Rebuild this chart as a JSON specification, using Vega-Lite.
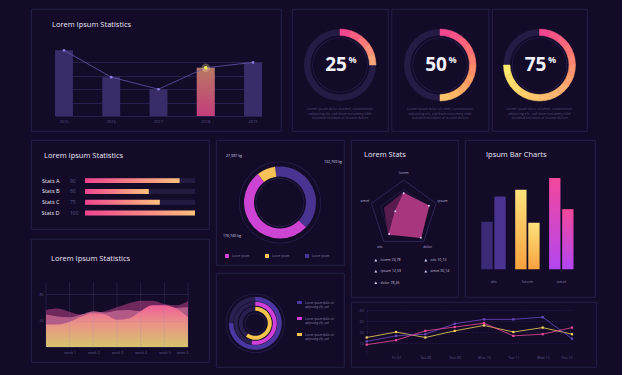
{
"$schema":"https://vega.github.io/schema/vega-lite/v6.json",
"background":"#130b28",
"padding":{"left":30,"top":8,"right":25,"bottom":7},
"spacing":7,
"resolve":{"scale":{"color":"independent","stroke":"independent"},"legend":{"color":"independent","stroke":"independent"}},
"config":{
 "font":"Open Sans",
 "view":{"stroke":"#2b2552","strokeWidth":0.8},
 "axis":{"domain":false,"ticks":false,"grid":false,"labelColor":"#5d5684","labelFontSize":4,"labelPadding":0},
 "title":{"color":"#e9e5f6","fontSize":7.5,"fontWeight":500,"anchor":"start","frame":"group"},
 "legend":{"labelColor":"#8a84a8","labelFontSize":3.6,"symbolStrokeWidth":0}
},
"datasets":{
 "gauges":[
  {"g":"25","seg":1,"v":5},{"g":"25","seg":2,"v":5},{"g":"25","seg":3,"v":5},{"g":"25","seg":4,"v":5},{"g":"25","seg":5,"v":5},
  {"g":"50","seg":1,"v":5},{"g":"50","seg":2,"v":5},{"g":"50","seg":3,"v":5},{"g":"50","seg":4,"v":5},{"g":"50","seg":5,"v":5},
  {"g":"50","seg":6,"v":5},{"g":"50","seg":7,"v":5},{"g":"50","seg":8,"v":5},{"g":"50","seg":9,"v":5},{"g":"50","seg":10,"v":5},
  {"g":"75","seg":1,"v":5},{"g":"75","seg":2,"v":5},{"g":"75","seg":3,"v":5},{"g":"75","seg":4,"v":5},{"g":"75","seg":5,"v":5},
  {"g":"75","seg":6,"v":5},{"g":"75","seg":7,"v":5},{"g":"75","seg":8,"v":5},{"g":"75","seg":9,"v":5},{"g":"75","seg":10,"v":5},
  {"g":"75","seg":11,"v":5},{"g":"75","seg":12,"v":5},{"g":"75","seg":13,"v":5},{"g":"75","seg":14,"v":5},{"g":"75","seg":15,"v":5}
 ],
 "radar":[
  {"axis":"lorem","k":0,"a":0.61,"b":0.64},
  {"axis":"ipsum","k":1,"a":0.78,"b":0.7},
  {"axis":"dolor","k":2,"a":0.86,"b":0.82},
  {"axis":"sits","k":3,"a":0.73,"b":0.76},
  {"axis":"amet","k":4,"a":0.26,"b":0.6}
 ]
},
"vconcat":[
 {"hconcat":[
  {
   "width":250,"height":122,
   "title":{"text":"Lorem Ipsum Statistics","offset":-19,"dx":21},
   "data":{"values":[{"year":"2015","v":49},{"year":"2016","v":29},{"year":"2017","v":20},{"year":"2018","v":36},{"year":"2019","v":40}]},
   "encoding":{
    "x":{"field":"year","type":"ordinal","title":null,"scale":{"range":[24,231],"paddingInner":0.62,"paddingOuter":0},"axis":{"offset":-12,"labelAngle":0}},
    "y":{"field":"v","type":"quantitative","title":null,"scale":{"domain":[0,50],"range":[107,40],"nice":false},"axis":{"grid":true,"gridColor":"#2d2458","gridWidth":0.8,"labels":false,"values":[0,10,20,30,40]}}
   },
   "layer":[
    {"mark":{"type":"bar","color":"#3a2c68"}},
    {"transform":[{"filter":"datum.year == '2018'"}],"mark":{"type":"bar","color":{"gradient":"linear","x1":0,"y1":0,"x2":0,"y2":1,"stops":[{"offset":0,"color":"#b87862"},{"offset":1,"color":"#c43d7c"}]}}},
    {"mark":{"type":"line","color":"#6656b0","strokeWidth":0.8}},
    {"mark":{"type":"point","filled":true,"color":"#8d7ee0","size":7,"opacity":1}},
    {"transform":[{"filter":"datum.year == '2018'"}],"mark":{"type":"point","filled":true,"color":"#f3e7a0","size":70,"opacity":0.3}},
    {"transform":[{"filter":"datum.year == '2018'"}],"mark":{"type":"point","filled":true,"color":"#f6ee5a","size":12,"opacity":1}}
   ]
  },
  {"hconcat":[
   {
    "width":96,"height":122,
    "title":{"text":["Lorem ipsum dolor sit amet, consectetuer","adipiscing elit, sed diam nonummy nibh","euismod tincidunt ut laoreet dolore"],"orient":"bottom","anchor":"middle","offset":-24,"fontSize":3.4,"color":"#56507c","lineHeight":4.6,"fontWeight":"normal"},
    "layer":[
     {"data":{"values":[{}]},"mark":{"type":"point","opacity":0,"size":0},"encoding":{"x":{"datum":0,"type":"quantitative","scale":{"domain":[-1,1]},"axis":null},"y":{"datum":0,"type":"quantitative","scale":{"domain":[-1,1]},"axis":null}}},
     {"data":{"values":[{"v":100}]},"mark":{"type":"arc","outerRadius":36,"innerRadius":29.5,"color":"#251b45","yOffset":-5},"encoding":{"theta":{"field":"v","type":"quantitative","scale":{"domain":[0,100]}}}},
     {"data":{"values":[{"v":100}]},"mark":{"type":"arc","outerRadius":27.6,"innerRadius":27,"color":"#2c2354","yOffset":-5},"encoding":{"theta":{"field":"v","type":"quantitative"}}},
     {"data":{"name":"gauges"},"transform":[{"filter":"datum.g == '25'"}],"mark":{"type":"arc","outerRadius":36,"innerRadius":29.5,"yOffset":-5,"strokeWidth":0.5},"encoding":{"theta":{"field":"v","type":"quantitative","stack":true},"order":{"field":"seg","type":"quantitative"},"color":{"field":"seg","type":"quantitative","scale":{"domain":[1,5],"range":["#f2478f","#f9a57a"]},"legend":null},"stroke":{"field":"seg","type":"quantitative","scale":{"domain":[1,5],"range":["#f2478f","#f9a57a"]},"legend":null}}},
     {"data":{"values":[{"p":"25"}]},"mark":{"type":"text","fontSize":19,"fontWeight":"bold","color":"#f3f1fa","dx":-4,"yOffset":-5,"baseline":"middle","align":"center"},"encoding":{"text":{"field":"p","type":"nominal"}}},
     {"data":{"values":[{"p":"%"}]},"mark":{"type":"text","fontSize":9,"fontWeight":"bold","color":"#f3f1fa","dx":12.5,"dy":-5,"yOffset":-5,"baseline":"middle","align":"center"},"encoding":{"text":{"field":"p","type":"nominal"}}}
    ]
   },
   {
    "width":97,"height":122,
    "title":{"text":["Lorem ipsum dolor sit amet, consectetuer","adipiscing elit, sed diam nonummy nibh","euismod tincidunt ut laoreet dolore"],"orient":"bottom","anchor":"middle","offset":-24,"fontSize":3.4,"color":"#56507c","lineHeight":4.6,"fontWeight":"normal"},
    "layer":[
     {"data":{"values":[{}]},"mark":{"type":"point","opacity":0,"size":0},"encoding":{"x":{"datum":0,"type":"quantitative","scale":{"domain":[-1,1]},"axis":null},"y":{"datum":0,"type":"quantitative","scale":{"domain":[-1,1]},"axis":null}}},
     {"data":{"values":[{"v":100}]},"mark":{"type":"arc","outerRadius":36,"innerRadius":29.5,"color":"#251b45","yOffset":-5},"encoding":{"theta":{"field":"v","type":"quantitative","scale":{"domain":[0,100]}}}},
     {"data":{"values":[{"v":100}]},"mark":{"type":"arc","outerRadius":27.6,"innerRadius":27,"color":"#2c2354","yOffset":-5},"encoding":{"theta":{"field":"v","type":"quantitative"}}},
     {"data":{"name":"gauges"},"transform":[{"filter":"datum.g == '50'"}],"mark":{"type":"arc","outerRadius":36,"innerRadius":29.5,"yOffset":-5,"strokeWidth":0.5},"encoding":{"theta":{"field":"v","type":"quantitative","stack":true},"order":{"field":"seg","type":"quantitative"},"color":{"field":"seg","type":"quantitative","scale":{"domain":[1,10],"range":["#f2478f","#fdc56a"]},"legend":null},"stroke":{"field":"seg","type":"quantitative","scale":{"domain":[1,10],"range":["#f2478f","#fdc56a"]},"legend":null}}},
     {"data":{"values":[{"p":"50"}]},"mark":{"type":"text","fontSize":19,"fontWeight":"bold","color":"#f3f1fa","dx":-4,"yOffset":-5,"baseline":"middle","align":"center"},"encoding":{"text":{"field":"p","type":"nominal"}}},
     {"data":{"values":[{"p":"%"}]},"mark":{"type":"text","fontSize":9,"fontWeight":"bold","color":"#f3f1fa","dx":12.5,"dy":-5,"yOffset":-5,"baseline":"middle","align":"center"},"encoding":{"text":{"field":"p","type":"nominal"}}}
    ]
   },
   {
    "width":95,"height":122,
    "title":{"text":["Lorem ipsum dolor sit amet, consectetuer","adipiscing elit, sed diam nonummy nibh","euismod tincidunt ut laoreet dolore"],"orient":"bottom","anchor":"middle","offset":-24,"fontSize":3.4,"color":"#56507c","lineHeight":4.6,"fontWeight":"normal"},
    "layer":[
     {"data":{"values":[{}]},"mark":{"type":"point","opacity":0,"size":0},"encoding":{"x":{"datum":0,"type":"quantitative","scale":{"domain":[-1,1]},"axis":null},"y":{"datum":0,"type":"quantitative","scale":{"domain":[-1,1]},"axis":null}}},
     {"data":{"values":[{"v":100}]},"mark":{"type":"arc","outerRadius":36,"innerRadius":29.5,"color":"#251b45","yOffset":-5},"encoding":{"theta":{"field":"v","type":"quantitative","scale":{"domain":[0,100]}}}},
     {"data":{"values":[{"v":100}]},"mark":{"type":"arc","outerRadius":27.6,"innerRadius":27,"color":"#2c2354","yOffset":-5},"encoding":{"theta":{"field":"v","type":"quantitative"}}},
     {"data":{"name":"gauges"},"transform":[{"filter":"datum.g == '75'"}],"mark":{"type":"arc","outerRadius":36,"innerRadius":29.5,"yOffset":-5,"strokeWidth":0.5},"encoding":{"theta":{"field":"v","type":"quantitative","stack":true},"order":{"field":"seg","type":"quantitative"},"color":{"field":"seg","type":"quantitative","scale":{"domain":[1,8,15],"range":["#f2478f","#fbae72","#fde96b"]},"legend":null},"stroke":{"field":"seg","type":"quantitative","scale":{"domain":[1,8,15],"range":["#f2478f","#fbae72","#fde96b"]},"legend":null}}},
     {"data":{"values":[{"p":"75"}]},"mark":{"type":"text","fontSize":19,"fontWeight":"bold","color":"#f3f1fa","dx":-4,"yOffset":-5,"baseline":"middle","align":"center"},"encoding":{"text":{"field":"p","type":"nominal"}}},
     {"data":{"values":[{"p":"%"}]},"mark":{"type":"text","fontSize":9,"fontWeight":"bold","color":"#f3f1fa","dx":12.5,"dy":-5,"yOffset":-5,"baseline":"middle","align":"center"},"encoding":{"text":{"field":"p","type":"nominal"}}}
    ]
   }
  ],"spacing":1.5,"resolve":{"scale":{"color":"independent","stroke":"independent"},"legend":{"color":"independent","stroke":"independent"}}}
 ],"spacing":9,"resolve":{"scale":{"color":"independent","stroke":"independent"},"legend":{"color":"independent","stroke":"independent"}}},
 {"hconcat":[
  {"vconcat":[
   {
    "width":178,"height":89,
    "title":{"text":"Lorem Ipsum Statistics","offset":-19,"dx":13},
    "data":{"values":[{"s":"Stats A","val":"90","len":86},{"s":"Stats B","val":"60","len":58},{"s":"Stats C","val":"75","len":68},{"s":"Stats D","val":"100","len":100}]},
    "encoding":{"y":{"field":"s","type":"nominal","title":null,"scale":{"range":[35.3,78.4],"paddingInner":0.55,"paddingOuter":0.275},"axis":{"offset":-28,"labelColor":"#ece8f7","labelFontSize":5.5,"labelPadding":0}}},
    "layer":[
     {"mark":{"type":"bar","color":"#231a40"},"encoding":{"x":{"datum":100,"type":"quantitative","scale":{"domain":[0,100],"range":[54,164]},"axis":null}}},
     {"mark":{"type":"bar","color":{"gradient":"linear","x1":0,"y1":0,"x2":1,"y2":0,"stops":[{"offset":0,"color":"#f0448f"},{"offset":1,"color":"#fcbf7c"}]}},"encoding":{"x":{"field":"len","type":"quantitative","axis":null}}},
     {"mark":{"type":"text","align":"left","dx":-15,"fontSize":5,"color":"#5d5684","baseline":"middle"},"encoding":{"x":{"datum":0,"type":"quantitative"},"text":{"field":"val","type":"nominal"}}}
    ]
   },
   {
    "width":178,"height":123,
    "title":{"text":"Lorem Ipsum Statistics","offset":-23.5,"dx":20},
    "data":{"values":[
     {"x":0,"a":56,"b":49,"c":34},{"x":0.5,"a":58,"b":46,"c":34},{"x":1,"a":53,"b":45,"c":38},
     {"x":1.5,"a":49,"b":49,"c":46},{"x":2,"a":51,"b":54,"c":51},{"x":2.5,"a":54,"b":52,"c":49},
     {"x":3,"a":60,"b":55,"c":41},{"x":3.5,"a":66,"b":56,"c":43},{"x":4,"a":70,"b":54,"c":54},
     {"x":4.5,"a":70,"b":54,"c":63},{"x":5,"a":65,"b":56,"c":63},{"x":5.5,"a":63,"b":59,"c":58},
     {"x":6,"a":69,"b":60,"c":45}]},
    "encoding":{
     "x":{"field":"x","type":"quantitative","title":null,"scale":{"domain":[0,6],"range":[15,157]},"axis":{"offset":-12,"values":[1,2,3,4,5,6],"labelExpr":"'week ' + datum.value","labelFontSize":3.6}}
    },
    "layer":[
     {"mark":{"type":"area","interpolate":"monotone","color":"#6f285c"},"encoding":{"y":{"field":"a","type":"quantitative","title":null,"scale":{"domain":[0,80],"range":[108,55],"nice":false},"axis":{"offset":-13.5,"labelPadding":1.5,"values":[0,20,40,60,80],"labelOverlap":false,"labelExpr":"datum.value == 0 ? '' : datum.label","grid":true,"gridColor":"#8b80c4","gridOpacity":0.28,"gridWidth":0.6,"zindex":1,"labelFontSize":3.6}}}},
     {"mark":{"type":"area","interpolate":"monotone","color":"#b45a86"},"encoding":{"y":{"field":"b","type":"quantitative"}}},
     {"mark":{"type":"area","interpolate":"monotone","color":{"gradient":"linear","x1":0,"y1":0,"x2":0,"y2":1,"stops":[{"offset":0,"color":"#ef5f9a"},{"offset":0.4,"color":"#eb8f88"},{"offset":1,"color":"#d6c46c"}]}},"encoding":{"y":{"field":"c","type":"quantitative"}}},
     {"transform":[{"filter":"datum.x % 1 == 0"}],"mark":{"type":"rule","color":"#8b80c4","opacity":0.28,"strokeWidth":0.6},"encoding":{"y":{"datum":0,"type":"quantitative"},"y2":{"datum":98}}}
    ]
   }
  ],"spacing":8,"resolve":{"scale":{"color":"independent","stroke":"independent"},"legend":{"color":"independent","stroke":"independent"}}},
  {"vconcat":[
   {
    "width":128,"height":125,
    "data":{"values":[{"cat":"a","kg":132769,"label":"132,769 kg"},{"cat":"b","kg":176740,"label":"176,740 kg"},{"cat":"c","kg":27987,"label":"27,987 kg"}]},
    "resolve":{"scale":{"theta":"independent"}},
    "layer":[
     {"data":{"values":[{}]},"mark":{"type":"point","opacity":0,"size":0},"encoding":{"x":{"datum":0,"type":"quantitative","scale":{"domain":[-1,1]},"axis":null},"y":{"datum":0,"type":"quantitative","scale":{"domain":[-1,1]},"axis":null}}},
     {"data":{"values":[{"v":1}]},"mark":{"type":"arc","outerRadius":41,"innerRadius":40.4,"color":"#2b2352"},"encoding":{"theta":{"field":"v","type":"quantitative"}}},
     {"mark":{"type":"arc","outerRadius":36,"innerRadius":26},"encoding":{"theta":{"field":"kg","type":"quantitative","stack":true,"scale":{"range":[-0.1396,6.1436]}},"order":{"field":"cat","type":"nominal"},"color":{"field":"cat","type":"nominal","scale":{"domain":["b","c","a"],"range":["#cd43d4","#f6c257","#4a3491"]},"legend":{"title":null,"orient":"bottom-left","direction":"horizontal","offset":7,"symbolOffset":2,"labelExpr":"'Lorem ipsum'","symbolType":"square","symbolSize":16,"labelFontSize":2.8,"labelColor":"#8a84a8","columnPadding":13,"labelOffset":3,"padding":0}}}},
     {"data":{"values":[{"v":1}]},"mark":{"type":"arc","outerRadius":24.4,"innerRadius":23.8,"color":"#2b2352"},"encoding":{"theta":{"field":"v","type":"quantitative"}}},
     {"transform":[{"stack":"kg","groupby":[],"sort":[{"field":"cat","order":"ascending"}],"as":["t0","t1"]},{"calculate":"(datum.t0 + datum.t1) / 2","as":"tm"},{"filter":"datum.cat == 'a'"}],"mark":{"type":"text","radius":45,"dx":13,"dy":-20,"fontSize":3.6,"color":"#d8d3ea"},"encoding":{"theta":{"field":"tm","type":"quantitative","stack":null,"scale":{"domain":[0,337496],"range":[-0.1396,6.1436]}},"text":{"field":"label","type":"nominal"}}},
     {"transform":[{"stack":"kg","groupby":[],"sort":[{"field":"cat","order":"ascending"}],"as":["t0","t1"]},{"calculate":"(datum.t0 + datum.t1) / 2","as":"tm"},{"filter":"datum.cat == 'b'"}],"mark":{"type":"text","radius":50,"dx":-11,"fontSize":3.6,"color":"#d8d3ea"},"encoding":{"theta":{"field":"tm","type":"quantitative","stack":null,"scale":{"domain":[0,337496],"range":[-0.1396,6.1436]}},"text":{"field":"label","type":"nominal"}}},
     {"transform":[{"stack":"kg","groupby":[],"sort":[{"field":"cat","order":"ascending"}],"as":["t0","t1"]},{"calculate":"(datum.t0 + datum.t1) / 2","as":"tm"},{"filter":"datum.cat == 'c'"}],"mark":{"type":"text","radius":50,"dx":-26.5,"fontSize":3.6,"color":"#d8d3ea"},"encoding":{"theta":{"field":"tm","type":"quantitative","stack":null,"scale":{"domain":[0,337496],"range":[-0.1396,6.1436]}},"text":{"field":"label","type":"nominal"}}}
    ]
   },
   {
    "width":128,"height":94,
    "data":{"values":[{"k":"p","v":270},{"k":"m","v":190},{"k":"y","v":215}]},
    "layer":[
     {"data":{"values":[{}]},"mark":{"type":"point","opacity":0,"size":0},"encoding":{"x":{"datum":0,"type":"quantitative","scale":{"domain":[-1,1]},"axis":null},"y":{"datum":0,"type":"quantitative","scale":{"domain":[-1,1]},"axis":null}}},
     {"data":{"values":[{"v":360}]},"mark":{"type":"arc","outerRadius":29.6,"innerRadius":29,"color":"#2b2352","xOffset":-24.7,"yOffset":3.3},"encoding":{"theta":{"field":"v","type":"quantitative","scale":{"domain":[0,360]}}}},
     {"data":{"values":[{"v":360}]},"mark":{"type":"arc","outerRadius":26.5,"innerRadius":22,"color":"#2a1f4e","xOffset":-24.7,"yOffset":3.3},"encoding":{"theta":{"field":"v","type":"quantitative"}}},
     {"data":{"values":[{"v":360}]},"mark":{"type":"arc","outerRadius":21.5,"innerRadius":17.5,"color":"#2a1f4e","xOffset":-24.7,"yOffset":3.3},"encoding":{"theta":{"field":"v","type":"quantitative"}}},
     {"data":{"values":[{"v":360}]},"mark":{"type":"arc","outerRadius":16.5,"innerRadius":12.5,"color":"#2a1f4e","xOffset":-24.7,"yOffset":3.3},"encoding":{"theta":{"field":"v","type":"quantitative"}}},
     {"data":{"values":[{"v":360}]},"mark":{"type":"arc","outerRadius":10.6,"innerRadius":10,"color":"#2b2352","xOffset":-24.7,"yOffset":3.3},"encoding":{"theta":{"field":"v","type":"quantitative"}}},
     {"transform":[{"filter":"datum.k == 'p'"}],"mark":{"type":"arc","outerRadius":26.5,"innerRadius":22,"xOffset":-24.7,"yOffset":3.3},"encoding":{"theta":{"field":"v","type":"quantitative"},"color":{"field":"k","type":"nominal","scale":{"domain":["p","m","y"],"range":["#4c36a2","#d03fd9","#f8c34c"]},"legend":{"orient":"top-right","offset":10,"padding":0,"title":" ","titleFontSize":1,"titlePadding":16,"symbolType":"M-1,-0.6L1,-0.6L1,0.6L-1,0.6Z","symbolSize":25,"labelExpr":"['Lorem ipsum dolor sit', 'adipiscing elit, sed']","labelFontSize":2.8,"labelColor":"#8e88ab","rowPadding":6,"labelOffset":3,"labelLimit":0}}}},
     {"transform":[{"filter":"datum.k == 'm'"}],"mark":{"type":"arc","outerRadius":21.5,"innerRadius":17.5,"xOffset":-24.7,"yOffset":3.3},"encoding":{"theta":{"field":"v","type":"quantitative"},"color":{"field":"k","type":"nominal"}}},
     {"transform":[{"filter":"datum.k == 'y'"}],"mark":{"type":"arc","outerRadius":16.5,"innerRadius":12.5,"xOffset":-24.7,"yOffset":3.3},"encoding":{"theta":{"field":"v","type":"quantitative"},"color":{"field":"k","type":"nominal"}}}
    ]
   }
  ],"spacing":6,"resolve":{"scale":{"color":"independent","stroke":"independent"},"legend":{"color":"independent","stroke":"independent"}}},
  {"vconcat":[
   {"hconcat":[
    {
     "width":107,"height":157,
     "title":{"text":"Lorem  Stats","offset":-18,"dx":13},
     "data":{"name":"radar"},
     "layer":[
      {"transform":[{"calculate":"sin(datum.k*2*PI/5)","as":"gx"},{"calculate":"cos(datum.k*2*PI/5)","as":"gy"}],"mark":{"type":"line","interpolate":"linear-closed","color":"#3a3168","strokeWidth":0.7},"encoding":{"x":{"field":"gx","type":"quantitative","scale":{"domain":[-1,1],"range":[18.7,86.7]},"axis":null},"y":{"field":"gy","type":"quantitative","scale":{"domain":[-1,1],"range":[108,40]},"axis":null},"order":{"field":"k","type":"quantitative"}}},
      {"transform":[{"calculate":"0.72*sin(datum.k*2*PI/5)","as":"gx"},{"calculate":"0.72*cos(datum.k*2*PI/5)","as":"gy"}],"mark":{"type":"line","interpolate":"linear-closed","color":"#2f2758","strokeWidth":0.6},"encoding":{"x":{"field":"gx","type":"quantitative"},"y":{"field":"gy","type":"quantitative"},"order":{"field":"k","type":"quantitative"}}},
      {"transform":[{"calculate":"datum.b*sin(datum.k*2*PI/5)","as":"bx"},{"calculate":"datum.b*cos(datum.k*2*PI/5)","as":"by"}],"mark":{"type":"line","interpolate":"linear-closed","color":"#5e1c50","fill":"#5e1c50","fillOpacity":0.95,"strokeWidth":0.6},"encoding":{"x":{"field":"bx","type":"quantitative"},"y":{"field":"by","type":"quantitative"},"order":{"field":"k","type":"quantitative"}}},
      {"transform":[{"calculate":"datum.a*sin(datum.k*2*PI/5)","as":"ax"},{"calculate":"datum.a*cos(datum.k*2*PI/5)","as":"ay"}],"mark":{"type":"line","interpolate":"linear-closed","color":"#c44590","fill":"#ad387f","fillOpacity":0.95,"strokeWidth":0.6},"encoding":{"x":{"field":"ax","type":"quantitative"},"y":{"field":"ay","type":"quantitative"},"order":{"field":"k","type":"quantitative"}}},
      {"transform":[{"calculate":"datum.a*sin(datum.k*2*PI/5)","as":"ax"},{"calculate":"datum.a*cos(datum.k*2*PI/5)","as":"ay"}],"mark":{"type":"point","filled":true,"size":4,"opacity":1},"encoding":{"x":{"field":"ax","type":"quantitative"},"y":{"field":"ay","type":"quantitative"},"color":{"field":"axis","type":"nominal","scale":{"domain":["lorem","ipsum","dolor","sits","amet"],"range":["#cfc8f2","#cfc8f2","#cfc8f2","#cfc8f2","#cfc8f2"]},"legend":{"title":null,"orient":"bottom-left","columns":2,"offset":12,"symbolOffset":11,"padding":0,"symbolType":"triangle-up","symbolSize":9,"labelFontSize":3.6,"labelColor":"#c6c0dd","rowPadding":6.5,"columnPadding":10,"labelOffset":3,"labelExpr":"datum.label == 'lorem' ? 'lorem   74,78' : datum.label == 'ipsum' ? 'ipsum   12,03' : datum.label == 'dolor' ? 'dolor   78,45' : datum.label == 'sits' ? 'sits   10,13' : 'amet   30,14'"}}}},
      {"transform":[{"calculate":"1.2*sin(datum.k*2*PI/5)","as":"lx"},{"calculate":"1.2*cos(datum.k*2*PI/5)","as":"ly"}],"mark":{"type":"text","fontSize":3.6,"color":"#bdb6da","baseline":"middle"},"encoding":{"x":{"field":"lx","type":"quantitative"},"y":{"field":"ly","type":"quantitative"},"text":{"field":"axis","type":"nominal"}}}
     ]
    },
    {
     "width":130,"height":157,
     "title":{"text":"Ipsum Bar Charts","offset":-18,"dx":21},
     "data":{"values":[{"grp":"sits","sub":"1","v":0.49},{"grp":"sits","sub":"2","v":0.75},{"grp":"lorem","sub":"1","v":0.82},{"grp":"lorem","sub":"2","v":0.48},{"grp":"amet","sub":"1","v":0.94},{"grp":"amet","sub":"2","v":0.62}]},
     "encoding":{
      "x":{"field":"grp","type":"nominal","title":null,"scale":{"domain":["sits","lorem","amet"],"range":[11.55,113.25],"paddingInner":0.28,"paddingOuter":0.14},"axis":{"offset":-18,"labelAngle":0,"labelColor":"#8e88ab","labelFontSize":4}},
      "xOffset":{"field":"sub","type":"nominal","scale":{"domain":["1","2"],"paddingInner":0.13}},
      "y":{"field":"v","type":"quantitative","title":null,"scale":{"domain":[0,1],"range":[129.3,32.3],"nice":false},"axis":null}
     },
     "layer":[
      {"mark":{"type":"bar","color":"#251b44"},"encoding":{"y":{"datum":1,"type":"quantitative"}}},
      {"transform":[{"filter":"datum.grp == 'sits'"}],"mark":{"type":"bar"},"encoding":{"color":{"field":"sub","type":"nominal","scale":{"domain":["1","2"],"range":["#3d2a77","#4b3392"]},"legend":null}}},
      {"transform":[{"filter":"datum.grp == 'lorem'"}],"mark":{"type":"bar","color":{"gradient":"linear","x1":0,"y1":0,"x2":0,"y2":1,"stops":[{"offset":0,"color":"#fde27c"},{"offset":1,"color":"#f8a23e"}]}}},
      {"transform":[{"filter":"datum.grp == 'amet'"}],"mark":{"type":"bar","color":{"gradient":"linear","x1":0,"y1":0,"x2":0,"y2":1,"stops":[{"offset":0,"color":"#f3489b"},{"offset":1,"color":"#b346f2"}]}}}
     ]
    }
   ],"spacing":5,"resolve":{"scale":{"color":"independent","stroke":"independent"},"legend":{"color":"independent","stroke":"independent"}}},
   {
    "width":245,"height":65,
    "data":{"values":[
     {"k":0,"s":"y","v":15},{"k":1,"s":"y","v":20},{"k":2,"s":"y","v":15},{"k":3,"s":"y","v":21},{"k":4,"s":"y","v":26},{"k":5,"s":"y","v":20},{"k":6,"s":"y","v":24},{"k":7,"s":"y","v":18},
     {"k":0,"s":"p","v":11.5},{"k":1,"s":"p","v":16.5},{"k":2,"s":"p","v":18},{"k":3,"s":"p","v":27.5},{"k":4,"s":"p","v":31.5},{"k":5,"s":"p","v":31.5},{"k":6,"s":"p","v":33.5},{"k":7,"s":"p","v":14},
     {"k":0,"s":"m","v":8.5},{"k":1,"s":"m","v":12.5},{"k":2,"s":"m","v":21},{"k":3,"s":"m","v":24.5},{"k":4,"s":"m","v":28},{"k":5,"s":"m","v":16.5},{"k":6,"s":"m","v":18},{"k":7,"s":"m","v":24}]},
    "encoding":{
     "x":{"field":"k","type":"quantitative","title":null,"scale":{"domain":[0,7],"range":[15.7,221]},"axis":{"offset":-12,"values":[1,2,3,4,5,6,7],"labelExpr":"['','Fri 07','Sat 08','Sun 09','Mon 10','Tue 11','Wed 12','Thu 13'][datum.value]","labelFontSize":3.6}},
     "y":{"field":"v","type":"quantitative","title":null,"scale":{"domain":[0,40],"range":[52,8],"nice":false},"axis":{"offset":-15.7,"labelPadding":3.5,"values":[10,20,30,40],"grid":true,"gridDash":[1,1.5],"gridColor":"#372e66","gridWidth":0.6,"domain":true,"domainDash":[1,1.5],"domainColor":"#372e66","domainWidth":0.6,"labelFontSize":3.6}},
     "color":{"field":"s","type":"nominal","scale":{"domain":["y","p","m"],"range":["#f2d35c","#6a4bc4","#ee4a9a"]},"legend":null}
    },
    "layer":[
     {"mark":{"type":"line","strokeWidth":0.8}},
     {"mark":{"type":"point","filled":true,"size":5,"shape":"square","opacity":1}}
    ]
   }
  ],"spacing":3,"resolve":{"scale":{"color":"independent","stroke":"independent"},"legend":{"color":"independent","stroke":"independent"}}}
 ],"spacing":5,"resolve":{"scale":{"color":"independent","stroke":"independent"},"legend":{"color":"independent","stroke":"independent"}}}
]
}
